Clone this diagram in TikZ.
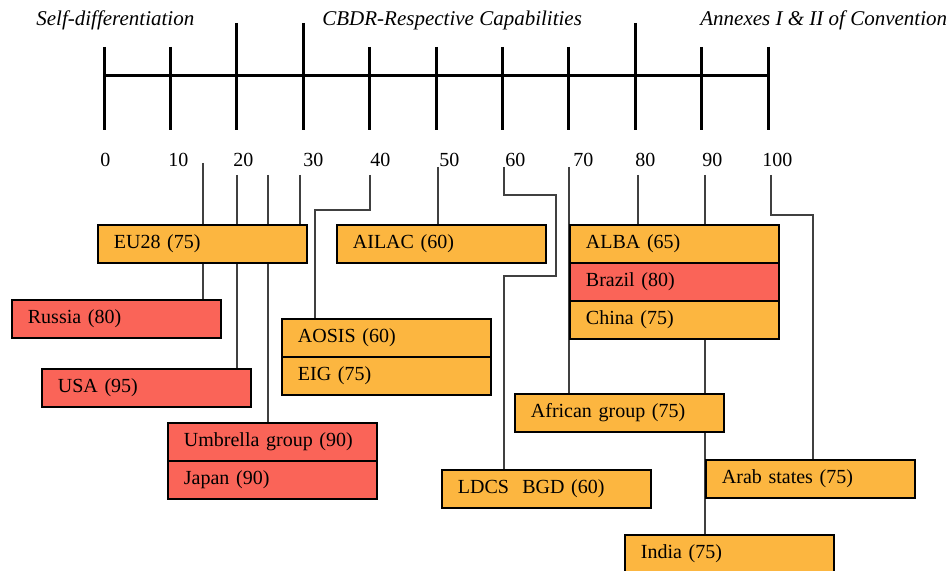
\documentclass[tikz,border=0pt]{standalone}
\usepackage{fontspec}
\setmainfont{Liberation Serif}
\usetikzlibrary{backgrounds}
\definecolor{grporange}{RGB}{252,182,64}
\definecolor{grpred}{RGB}{250,100,88}
\begin{document}
\begin{tikzpicture}[x=0.5pt,y=-0.5pt,
    groupbox/.style={draw=black, line width=0.9pt, anchor=north west, text width=88.5pt,
        inner xsep=8pt, inner ysep=0pt, minimum height=19pt, align=left,
        font=\fontsize{10}{12}\selectfont},
    orangebox/.style={groupbox, fill=grporange},
    redbox/.style={groupbox, fill=grpred},
    link/.style={draw=black!75, line width=0.7pt},
    axistick/.style={line width=1.5pt},
    heading/.style={anchor=west, inner sep=0pt, font=\itshape\fontsize{10.5}{12}\selectfont}]
    \useasboundingbox (0,0) rectangle (946,571);
    % scale
    \draw[axistick] (104,76) -- (768,76);
    \foreach \v in {0,10,40,50,60,70,90,100}
        \draw[axistick] ({104+6.64*\v},47) -- ({104+6.64*\v},130);
    \foreach \v in {20,30,80}
        \draw[axistick] ({104+6.64*\v},23) -- ({104+6.64*\v},130);
    \foreach \v/\lx in {0/100,10/168,20/233,30/303,40/370,50/439,60/505,70/573,80/635,90/702,100/762}
        \node [anchor=west, inner sep=0pt, font=\fontsize{10}{12}\selectfont] (n\v) at (\lx,160) {\v};
    \node [heading] (self) at (36,20) {Self-differentiation};
    \node [heading] (cbdr) at (322,20) {CBDR-Respective Capabilities};
    \node [heading] (annex) at (700,20) {Annexes I \& II of Convention};
    % where the links start
    \coordinate (cru) at (203,163);
    \coordinate (cus) at (237,175);
    \coordinate (cum) at (268,175);
    \coordinate (ceu) at (300,175);
    \coordinate (c40) at (370,175);
    \coordinate (c50) at (438,167);
    \coordinate (c60) at (504,167);
    \coordinate (c70) at (569,167);
    \coordinate (c80) at (638,175);
    \coordinate (c90) at (705,175);
    \coordinate (c100) at (771,175);
    \coordinate (b40) at (315,210);
    \coordinate (b60a) at (556,195);
    \coordinate (b60b) at (504,276);
    \coordinate (b100) at (813,215);
    % groups
    \path
        (97,224) node[orangebox] (eu) {EU28 (75)}
        (336,224) node[orangebox] (ailac) {AILAC (60)}
        (569,224) node[orangebox] (alba) {ALBA (65)}
        (569,262) node[redbox] (brazil) {Brazil (80)}
        (569,300) node[orangebox] (china) {China (75)}
        (11,299) node[redbox] (russia) {Russia (80)}
        (281,318) node[orangebox] (aosis) {AOSIS (60)}
        (281,356) node[orangebox] (eig) {EIG (75)}
        (41,368) node[redbox] (usa) {USA (95)}
        (514,393) node[orangebox] (african) {African group (75)}
        (167,422) node[redbox] (umbrella) {Umbrella group (90)}
        (167,460) node[redbox] (japan) {Japan (90)}
        (705,459) node[orangebox] (arab) {Arab states (75)}
        (441,469) node[orangebox] (ldcs) {LDCS\ \ BGD (60)}
        (624,534) node[orangebox] (india) {India (75)};
    % links, behind the boxes
    \begin{scope}[on background layer]
        \draw[link] (cru) -- (cru |- russia.north);
        \draw[link] (cus) -- (cus |- usa.north);
        \draw[link] (cum) -- (cum |- umbrella.north);
        \draw[link] (ceu) -- (ceu |- eu.north);
        \draw[link] (c40) |- (b40) -- (b40 |- aosis.north);
        \draw[link] (c50) -- (c50 |- ailac.north);
        \draw[link] (c60) |- (b60a) |- (b60b) -- (b60b |- ldcs.north);
        \draw[link] (c70) -- (c70 |- african.north);
        \draw[link] (c80) -- (c80 |- alba.north);
        \draw[link] (c90) -- (c90 |- india.north);
        \draw[link] (c100) |- (b100) -- (b100 |- arab.north);
    \end{scope}
\end{tikzpicture}
\end{document}
